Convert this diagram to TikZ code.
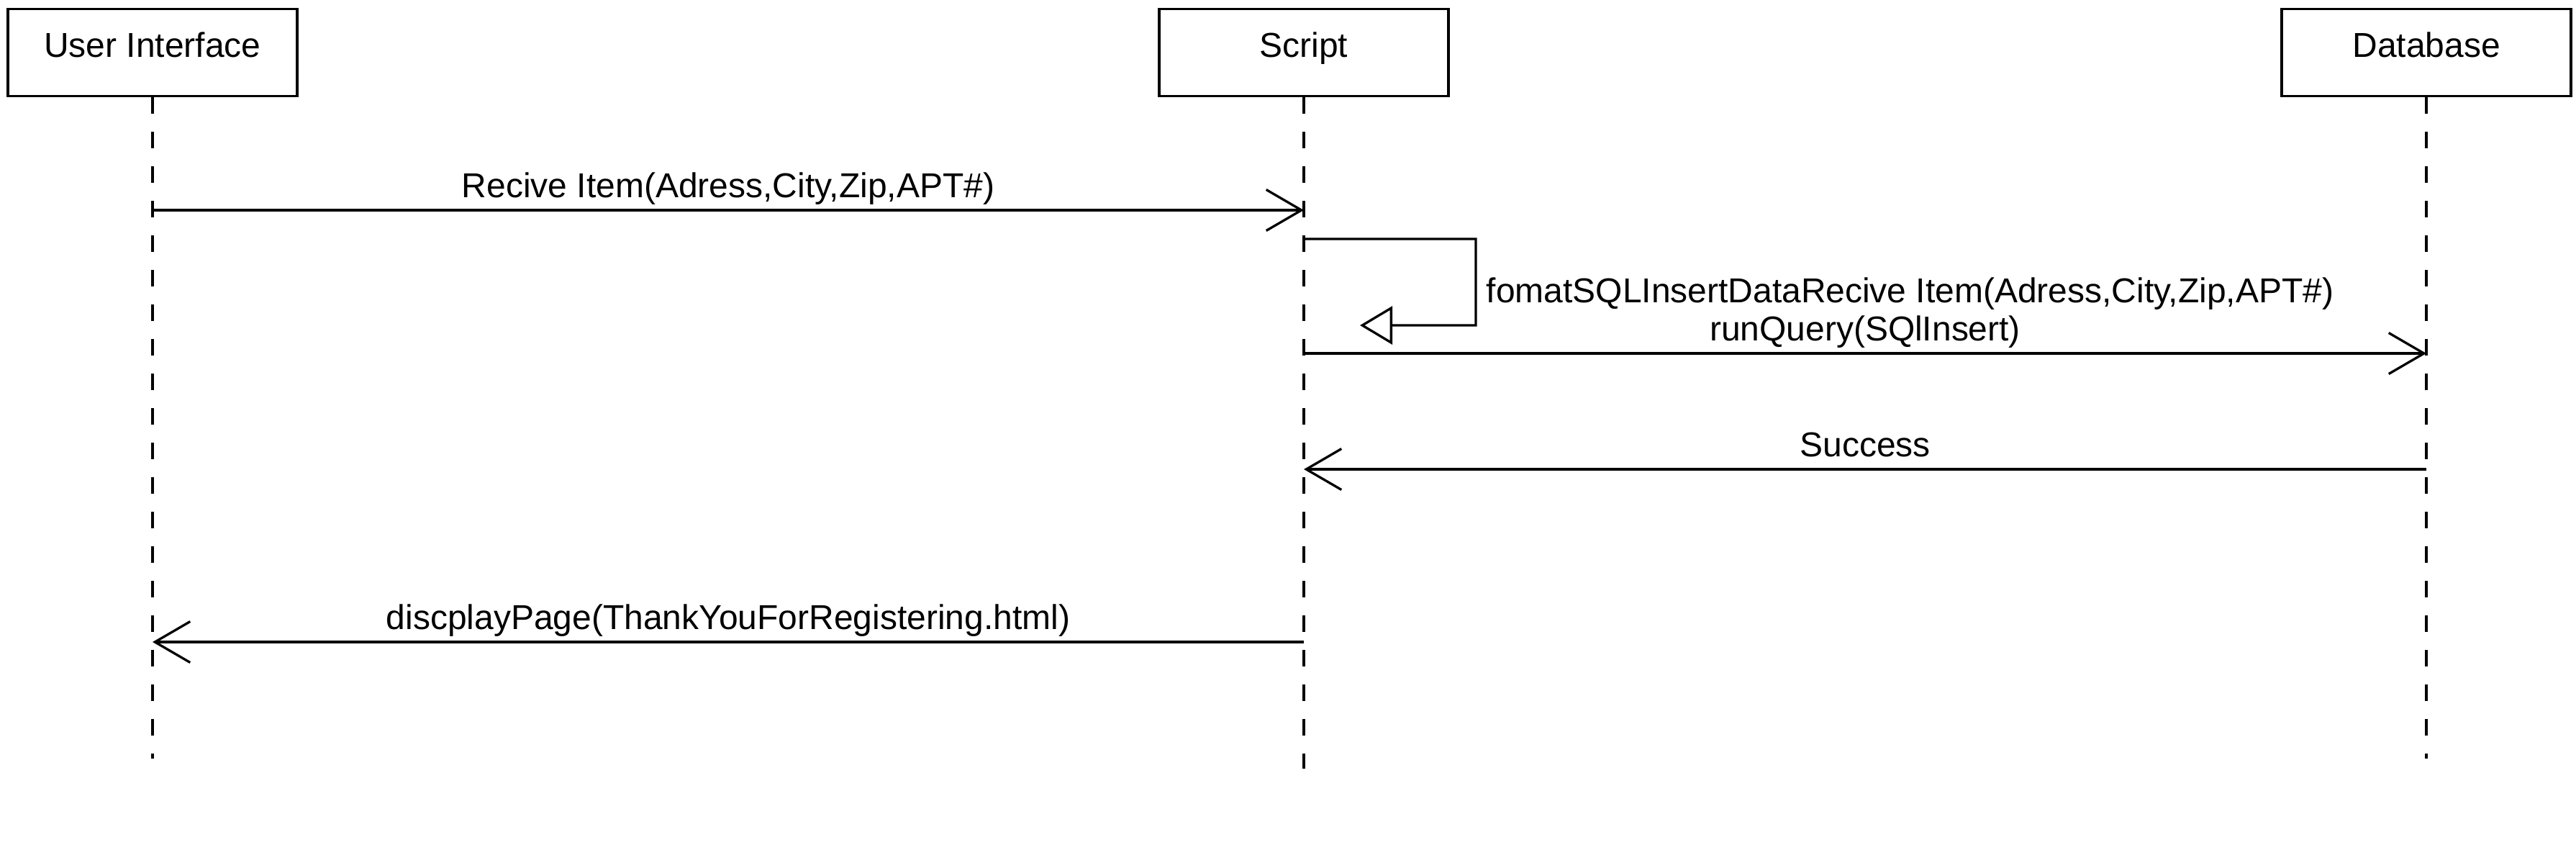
\documentclass[tikz,border=0pt]{standalone}
\usepackage{fontspec}
\setmainfont{Liberation Sans}
\usepackage{tikz}
\usetikzlibrary{positioning,arrows.meta}

\begin{document}
\begin{tikzpicture}[
    x=1cm, y=1cm,
    every node/.style={font=\fontsize{13.65pt}{16pt}\selectfont},
    head/.style={
        draw,
        line width=0.033cm,
        minimum width=4.02cm,
        text height=0.67cm,
        text depth=0.54cm,
        inner ysep=0pt,
        anchor=north
    },
    lifeline/.style={line width=0.033cm, dash pattern=on 0.23cm off 0.25cm},
    msg/.style={-{Straight Barb[length=0.49cm,width=0.57cm]}, line width=0.033cm},
    selfmsg/.style={-{Triangle[open,length=0.45cm,width=0.53cm]}, line width=0.033cm},
    lbl/.style={anchor=base, yshift=0.18cm, inner sep=0pt}
]
\useasboundingbox (0,0) rectangle (35.8,-11.8);

% lifeline heads
\node[head] (ui) at (2.12,-0.11) {User Interface};
\node[head] (script) at (18.12,-0.11) {Script};
\node[head] (db) at (33.72,-0.11) {Database};

% lifelines
\coordinate (uiend) at (2.12,-10.54);
\coordinate (scriptend) at (18.12,-10.68);
\coordinate (dbend) at (33.72,-10.54);
\draw[lifeline] (ui.south) -- (uiend);
\draw[lifeline] (script.south) -- (scriptend);
\draw[lifeline] (db.south) -- (dbend);

% message rows
\coordinate (m1) at (0,-2.92);
\coordinate (looptop) at (0,-3.32);
\coordinate (loopend) at (18.90,-4.52);
\coordinate (m3) at (0,-4.91);
\coordinate (m4) at (0,-6.52);
\coordinate (m5) at (0,-8.92);

\draw[msg] (ui |- m1) -- node[lbl] (l1) {Recive Item(Adress,City,Zip,APT\#)} (script |- m1);

% self call
\draw[selfmsg] (script |- looptop) -- ++(2.39,0) -- ++(0,-1.20) -- (loopend);
\node[anchor=base west, inner sep=0pt] (l2) at (20.65,-4.20)
    {fomatSQLInsertDataRecive Item(Adress,City,Zip,APT\#)};

\draw[msg] (script |- m3) -- node[lbl] (l3) {runQuery(SQlInsert)} (db |- m3);
\draw[msg] (db |- m4) -- node[lbl] (l4) {Success} (script |- m4);
\draw[msg] (script |- m5) -- node[lbl] (l5) {discplayPage(ThankYouForRegistering.html)} (ui |- m5);
\end{tikzpicture}
\end{document}
